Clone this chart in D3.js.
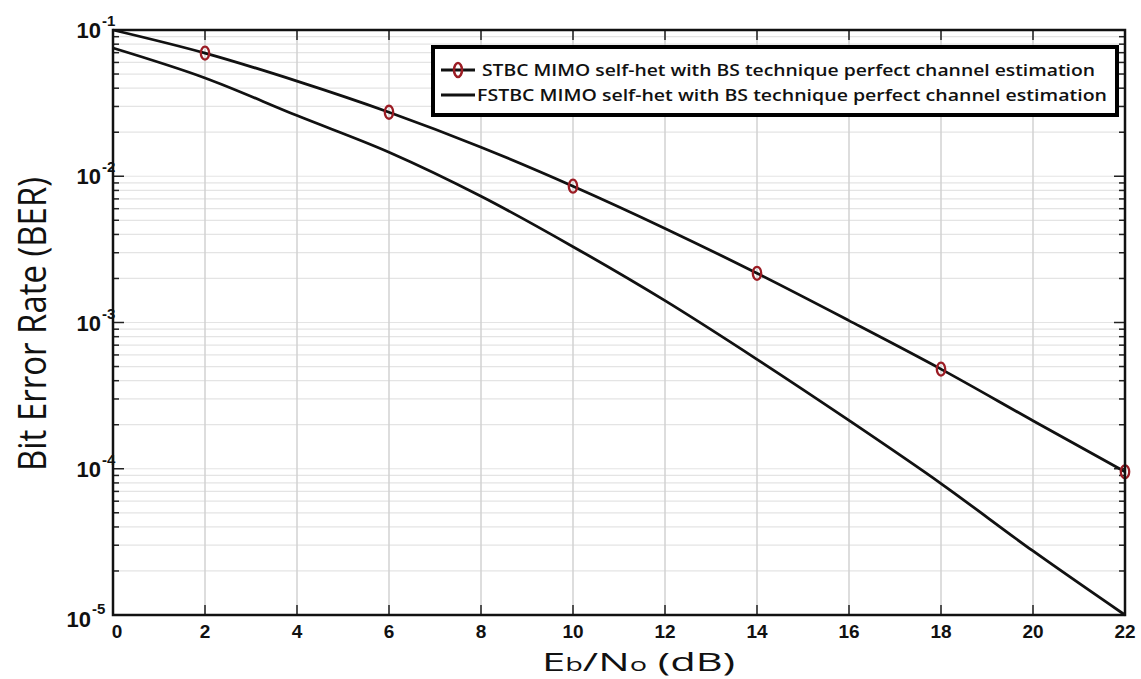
<!DOCTYPE html>
<html>
<head>
<meta charset="utf-8">
<script src="https://cdn.jsdelivr.net/npm/d3@7"></script>
<style>
  body { margin: 0; background: #fff; }
  #chart { width: 1141px; height: 679px; }
</style>
</head>
<body>
<div id="chart"></div>
<script>
// data
const snr = [0, 2, 4, 6, 8, 10, 12, 14, 16, 18, 20, 22]
const stbc = [0.1, 0.0695, 0.0447, 0.0274, 0.0158, 0.00855, 0.0044, 0.00217, 0.00103, 0.00048, 0.000213, 0.0000953]
const fstbc = [0.0753, 0.047, 0.026, 0.0146, 0.0073, 0.0033, 0.00141, 0.00056, 0.000214, 0.0000792, 0.0000274, 0.00001]
const markerSnr = [2, 6, 10, 14, 18, 22]
const xTicks = [0, 2, 4, 6, 8, 10, 12, 14, 16, 18, 20, 22]
const yDecades = [1, 2, 3, 4, 5]   // 10^-n
const legendLabels = [
  'STBC MIMO self-het with BS technique perfect channel estimation',
  'FSTBC MIMO self-het with BS technique perfect channel estimation'
]

// dimensions
let dimensions = {
  width: 1141,
  height: 679,
  margin: { top: 30, right: 16, bottom: 64, left: 113 }
}
dimensions.ctrWidth = dimensions.width - dimensions.margin.left - dimensions.margin.right
dimensions.ctrHeight = dimensions.height - dimensions.margin.top - dimensions.margin.bottom

const svg = d3.select('#chart').append('svg')
  .attr('width', dimensions.width)
  .attr('height', dimensions.height)

const ctr = svg.append('g')
  .attr('transform', `translate(${dimensions.margin.left}, ${dimensions.margin.top})`)

// scales
const xScale = d3.scaleLinear().domain([0, 22]).range([0, dimensions.ctrWidth])
const yScale = d3.scaleLog().domain([1e-5, 1e-1]).range([dimensions.ctrHeight, 0])

// grid
const minorVals = []
yDecades.slice(0, 4).forEach(n => {
  const base = Math.pow(10, -n - 1)
  for (let k = 2; k <= 9; k++) minorVals.push(base * k)
})
ctr.append('g').selectAll('line')
  .data(minorVals.concat([1e-2, 1e-3, 1e-4]))
  .join('line')
  .attr('x1', 0).attr('x2', dimensions.ctrWidth)
  .attr('y1', d => yScale(d)).attr('y2', d => yScale(d))
  .attr('stroke', '#e4e4e4').attr('stroke-width', 1.2)

ctr.append('g').selectAll('line')
  .data(xTicks.slice(1, -1))
  .join('line')
  .attr('x1', d => xScale(d)).attr('x2', d => xScale(d))
  .attr('y1', 0).attr('y2', dimensions.ctrHeight)
  .attr('stroke', '#d2d2d2').attr('stroke-width', 1.5)

// ticks (inward, on all four sides)
const tickG = ctr.append('g').attr('stroke', '#222').attr('stroke-width', 1.5)
xTicks.slice(1, -1).forEach(d => {
  tickG.append('line').attr('x1', xScale(d)).attr('x2', xScale(d))
    .attr('y1', dimensions.ctrHeight).attr('y2', dimensions.ctrHeight - 10)
  tickG.append('line').attr('x1', xScale(d)).attr('x2', xScale(d))
    .attr('y1', 0).attr('y2', 10)
})
minorVals.forEach(d => {
  tickG.append('line').attr('x1', 0).attr('x2', 6).attr('y1', yScale(d)).attr('y2', yScale(d))
  tickG.append('line').attr('x1', dimensions.ctrWidth).attr('x2', dimensions.ctrWidth - 6)
    .attr('y1', yScale(d)).attr('y2', yScale(d))
})
;[1e-2, 1e-3, 1e-4].forEach(d => {
  tickG.append('line').attr('x1', 0).attr('x2', 11).attr('y1', yScale(d)).attr('y2', yScale(d))
  tickG.append('line').attr('x1', dimensions.ctrWidth).attr('x2', dimensions.ctrWidth - 11)
    .attr('y1', yScale(d)).attr('y2', yScale(d))
})

// lines
const line = d3.line()
  .x((d, i) => xScale(snr[i]))
  .y(d => yScale(d))
  .curve(d3.curveCatmullRom.alpha(0.5))

ctr.append('path').datum(fstbc)
  .attr('d', line).attr('fill', 'none')
  .attr('stroke', '#111').attr('stroke-width', 2.8)

ctr.append('path').datum(stbc)
  .attr('d', line).attr('fill', 'none')
  .attr('stroke', '#111').attr('stroke-width', 2.8)

// markers
ctr.append('g').selectAll('ellipse')
  .data(markerSnr)
  .join('ellipse')
  .attr('cx', d => xScale(d))
  .attr('cy', d => yScale(stbc[snr.indexOf(d)]))
  .attr('rx', 4.2)
  .attr('ry', 6.5)
  .attr('fill', 'none')
  .attr('stroke', '#9b1c24')
  .attr('stroke-width', 2.3)

// frame
ctr.append('rect')
  .attr('width', dimensions.ctrWidth).attr('height', dimensions.ctrHeight)
  .attr('fill', 'none').attr('stroke', '#111').attr('stroke-width', 2.5)

// x tick labels
ctr.append('g').selectAll('text')
  .data(xTicks)
  .join('text')
  .attr('x', d => xScale(d) + (d === 0 ? 4 : 0))
  .attr('y', dimensions.ctrHeight + 23)
  .attr('text-anchor', 'middle')
  .style('font-family', '"Liberation Sans", Arial, sans-serif')
  .style('font-weight', 'bold')
  .style('font-size', '19px')
  .attr('fill', '#111')
  .text(d => d)

// y tick labels 10^-n
const yLab = ctr.append('g')
  .style('font-family', '"Liberation Sans", Arial, sans-serif')
  .style('font-weight', 'bold')
  .attr('fill', '#111')
yDecades.forEach(n => {
  const y = yScale(Math.pow(10, -n))
  const last = n === 5
  yLab.append('text')
    .attr('x', last ? -22 : -12)
    .attr('y', y + (last ? 12 : 8))
    .attr('text-anchor', 'end')
    .style('font-size', '22px')
    .text('10')
  yLab.append('text')
    .attr('x', last ? -21 : -11)
    .attr('y', y + (last ? -1 : -4))
    .style('font-size', '15px')
    .text('-' + n)
})

// axis titles
const xTitle = svg.append('text')
  .attr('x', 542)
  .attr('y', 671)
  .attr('textLength', 193)
  .attr('lengthAdjust', 'spacingAndGlyphs')
  .style('font-family', '"Open Sans", sans-serif')
  .style('font-size', '26px')
  .attr('fill', '#111')
xTitle.append('tspan').text('E')
xTitle.append('tspan').attr('font-size', '18px').text('b')
xTitle.append('tspan').text('/N')
xTitle.append('tspan').attr('font-size', '18px').text('o')
xTitle.append('tspan').text(' (dB)')

svg.append('text')
  .attr('transform', 'translate(46, 324) rotate(-90)')
  .attr('text-anchor', 'middle')
  .attr('textLength', 294)
  .attr('lengthAdjust', 'spacingAndGlyphs')
  .style('font-family', '"Open Sans", sans-serif')
  .style('font-size', '38px')
  .attr('fill', '#111')
  .text('Bit Error Rate (BER)')

// legend
const legend = svg.append('g').attr('transform', 'translate(433, 47)')
legend.append('rect')
  .attr('width', 684).attr('height', 68)
  .attr('fill', '#fff').attr('stroke', '#000').attr('stroke-width', 4)

legendLabels.forEach((lab, i) => {
  const y = 23 + i * 25
  legend.append('line')
    .attr('x1', 8).attr('x2', 42).attr('y1', y).attr('y2', y)
    .attr('stroke', '#111').attr('stroke-width', 3)
  if (i === 0) {
    legend.append('ellipse')
      .attr('cx', 25).attr('cy', y).attr('rx', 4).attr('ry', 7)
      .attr('fill', 'none').attr('stroke', '#9b1c24').attr('stroke-width', 2.5)
  }
  legend.append('text')
    .attr('x', i === 0 ? 49 : 44)
    .attr('y', y + 6)
    .attr('textLength', i === 0 ? 613 : 630)
    .attr('lengthAdjust', 'spacingAndGlyphs')
    .style('font-family', '"Open Sans", sans-serif')
    .style('font-weight', 600)
    .style('font-size', '17px')
    .attr('fill', '#111')
    .text(lab)
})
</script>
</body>
</html>
